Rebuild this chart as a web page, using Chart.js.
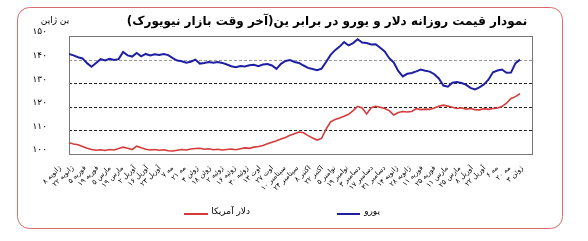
<!DOCTYPE html>
<html>
<head>
<meta charset="utf-8">
<script src="https://cdn.jsdelivr.net/npm/chart.js@4.4.0/dist/chart.umd.min.js"></script>
<style>
html, body { margin: 0; padding: 0; background: #fff; }
</style>
</head>
<body>
<canvas id="myChart" width="588" height="241"></canvas>
<script>
const chartTitle = 'نمودار قیمت روزانه دلار و یورو در برابر ین(آخر وقت بازار نیویورک)';
const yUnit = 'ین ژاپن';

// tick labels, one every two weeks
const dateLabels = [
    'ژانویه ۸', 'ژانویه ۲۲', 'فوریه ۵', 'فوریه ۱۹', 'مارس ۵', 'مارس ۱۹', 'آوریل ۲', 'آوریل ۱۶',
    'آوریل ۲۳', 'مه ۷', 'مه ۲۱', 'ژوئن ۴', 'ژوئن ۱۸', 'ژوئیه ۲', 'ژوئیه ۱۶', 'ژوئیه ۳۰',
    'اوت ۱۳', 'اوت ۲۷', 'سپتامبر ۱۰', 'سپتامبر ۲۴', 'اکتبر ۸', 'اکتبر ۲۲', 'نوامبر ۵', 'نوامبر ۱۹',
    'دسامبر ۳', 'دسامبر ۱۷', 'دسامبر ۳۱', 'ژانویه ۱۴', 'ژانویه ۲۸', 'فوریه ۱۱', 'فوریه ۲۵', 'مارس ۱۱',
    'مارس ۲۵', 'آوریل ۸', 'آوریل ۲۲', 'مه ۶', 'مه ۲۰', 'ژوئن ۳'
];

const euroLabel = 'یورو';
const dollarLabel = 'دلار آمریکا';

// yen per euro
const euroValues = [
    142.4, 141.8, 141.0, 140.5, 138.5, 137.0, 138.6, 140.2, 139.6, 140.3,
    139.8, 140.2, 143.2, 141.8, 141.3, 142.8, 141.4, 142.4, 141.8, 142.3,
    142.0, 142.4, 141.9, 140.6, 139.6, 139.3, 138.7, 139.1, 140.0, 138.3,
    138.6, 139.0, 138.7, 139.0, 138.6, 137.9, 137.2, 136.8, 137.3, 137.1,
    137.6, 137.8, 137.2, 137.9, 138.1, 137.5, 136.1, 138.2, 139.4, 139.8,
    139.0, 138.6, 137.5, 136.5, 136.0, 135.5, 136.2, 139.0, 142.0, 144.0,
    145.5, 147.4, 146.0, 147.0, 148.6, 147.2, 147.0, 146.4, 146.5, 145.0,
    143.5, 140.6, 138.8, 135.2, 132.9, 134.0, 134.3, 135.0, 135.8, 135.3,
    134.9, 133.8, 132.0, 129.0, 128.5, 130.2, 130.5, 130.1, 129.4, 128.0,
    127.4, 128.2, 129.5, 131.5, 134.6, 135.4, 135.8, 134.4, 134.5, 138.5,
    140.0
];

// yen per dollar
const dollarValues = [
    104.8, 104.2, 103.9, 103.2, 102.4, 101.9, 101.6, 101.8, 101.5, 101.9,
    101.7, 102.3, 102.9, 102.4, 101.9, 103.3, 102.6, 102.0, 101.7, 101.9,
    101.6, 101.8, 101.4, 101.3, 101.6, 101.9, 101.7, 102.1, 102.3, 102.4,
    102.0, 102.2, 101.8, 102.0, 101.7, 101.9, 102.1, 101.8, 102.2, 102.6,
    102.4, 102.9, 103.2, 103.6, 104.3, 105.0, 105.6, 106.4, 107.0, 107.9,
    108.6, 109.3, 109.0, 107.8, 106.8, 105.9, 106.6, 110.5, 113.6, 114.6,
    115.3, 116.0, 116.8, 118.4, 120.2, 119.5, 117.0, 119.6, 120.2, 119.8,
    119.3, 118.4, 116.5, 117.6, 118.0, 117.8, 118.0, 119.2, 118.8, 119.0,
    118.9, 119.5, 120.2, 120.7, 120.3, 119.8, 119.3, 119.6, 119.0, 119.3,
    118.8, 118.7, 119.2, 118.9, 119.3, 119.5, 120.1, 121.5, 123.5, 124.3,
    125.6
];

// samples sit between the tick labels (x is measured in label steps)
const DATA_FIRST = 0.72;
const DATA_STEP = 0.3612;

function toPersian(n) {
    return String(n).replace(/[0-9]/g, d => '۰۱۲۳۴۵۶۷۸۹'[d]);
}
function toPoints(values) {
    return values.map((v, k) => ({ x: DATA_FIRST + k * DATA_STEP, y: v }));
}

const FONT = '"DejaVu Sans", sans-serif';

const decorations = {
    id: 'decorations',
    beforeDraw(chart) {
        const ctx = chart.ctx;
        ctx.save();
        // outer rounded frame
        ctx.strokeStyle = '#d86a6a';
        ctx.lineWidth = 1;
        ctx.beginPath();
        ctx.roundRect(17.5, 7.5, 545, 221, 12);
        ctx.stroke();
        // title
        ctx.fillStyle = '#000';
        ctx.direction = 'rtl';
        ctx.textAlign = 'center';
        ctx.textBaseline = 'middle';
        ctx.font = 'bold 12px ' + FONT;
        ctx.fillText(chartTitle, 327, 22);
        // unit above the y axis
        ctx.font = '9px ' + FONT;
        ctx.fillText(yUnit, 55, 21);
        ctx.restore();
    },
    beforeDatasetsDraw(chart) {
        const a = chart.chartArea;
        const ctx = chart.ctx;
        ctx.save();
        // dashed value lines
        ctx.lineWidth = 1;
        ctx.setLineDash([3, 2]);
        const y = chart.scales.y;
        [110, 120, 130, 140].forEach(v => {
            const py = Math.round(y.getPixelForValue(v)) + 0.5;
            ctx.strokeStyle = v === 140 ? '#999' : '#222';
            ctx.beginPath();
            ctx.moveTo(a.left, py);
            ctx.lineTo(a.right, py);
            ctx.stroke();
        });
        ctx.setLineDash([]);
        ctx.strokeStyle = '#777';
        ctx.strokeRect(Math.round(a.left) + 0.5, Math.round(a.top) + 0.5, Math.round(a.right - a.left), Math.round(a.bottom - a.top));
        ctx.restore();
    },
    afterDraw(chart) {
        // legend: line sample on the left, text on its right
        const ctx = chart.ctx;
        const spots = [{ line: [337, 360], text: 380 }, { line: [184, 208], text: 250 }];
        ctx.save();
        chart.data.datasets.forEach((ds, i) => {
            const s = spots[i];
            ctx.strokeStyle = ds.borderColor;
            ctx.lineWidth = 2;
            ctx.beginPath();
            ctx.moveTo(s.line[0], 214);
            ctx.lineTo(s.line[1], 214);
            ctx.stroke();
            ctx.fillStyle = '#000';
            ctx.textBaseline = 'middle';
            ctx.font = '9px ' + FONT;
            ctx.textAlign = 'right';
            ctx.fillText(ds.label, s.text, 212);
        });
        ctx.restore();
    }
};

new Chart(document.getElementById('myChart').getContext('2d'), {
    type: 'line',
    data: {
        datasets: [
            { label: euroLabel, data: toPoints(euroValues), borderColor: '#1f1fa3', borderWidth: 2, pointRadius: 0, tension: 0 },
            { label: dollarLabel, data: toPoints(dollarValues), borderColor: '#d63a3a', borderWidth: 1.6, pointRadius: 0, tension: 0 }
        ]
    },
    options: {
        responsive: false,
        animation: false,
        layout: { padding: { left: 0, right: 56, top: 36, bottom: 0 } },
        plugins: {
            legend: { display: false },
            title: { display: false },
            tooltip: { enabled: false }
        },
        scales: {
            x: {
                type: 'linear',
                min: DATA_FIRST,
                max: 37.8,
                afterBuildTicks: scale => { scale.ticks = dateLabels.map((_, i) => ({ value: i })); },
                afterFit: scale => { scale.height = 87; },
                grid: { display: false },
                border: { display: false },
                ticks: {
                    autoSkip: false,
                    maxRotation: 45,
                    minRotation: 45,
                    padding: 2,
                    color: '#000',
                    font: { family: FONT, size: 7 },
                    callback: v => dateLabels[v]
                }
            },
            y: {
                min: 100,
                max: 150,
                afterFit: scale => { scale.width = 69; },
                border: { display: false },
                grid: { display: false, drawTicks: false },
                ticks: {
                    stepSize: 10,
                    padding: 22,
                    labelOffset: -4,
                    color: '#000',
                    font: { family: FONT, size: 9 },
                    callback: v => toPersian(v)
                }
            }
        }
    },
    plugins: [decorations]
});
</script>
</body>
</html>
